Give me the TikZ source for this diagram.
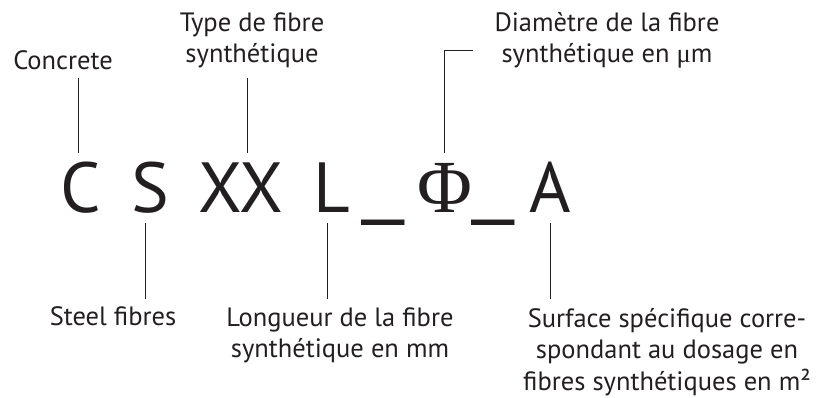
\documentclass[tikz,border=0pt]{standalone}
\usepackage{fontspec}
\setmainfont{PT Sans}
\newfontfamily\symfont{Liberation Serif}
\definecolor{ink}{RGB}{35,31,32}
\begin{document}
\begin{tikzpicture}[x=1pt, y=-1pt, ink,
  lbl/.style={font=\fontsize{26.5}{31.5}\selectfont, align=center, inner sep=0pt, anchor=base},
  big/.style={font=\fontsize{71}{71}\selectfont, inner sep=0pt, outer ysep=10pt,
    text height=50pt, text depth=0pt, anchor=base},
  lead/.style={line width=0.8pt}]
  \useasboundingbox (0,0) rectangle (820,398);

  % the code letters
  \node[big] (C)   at (81,213)  {C};
  \node[big] (S)   at (150,213) {S};
  \node[big] (XX)  at (241,213) {XX};
  \node[big] (L)   at (332,213) {L};
  \node[big] (us1) at (383,213) {\raisebox{3.5pt}{\scalebox{1.5}[1.1]{\_}}};
  \node[big, font=\fontsize{75}{75}\symfont] (Phi) at (445,213) {Φ};
  \node[big] (us2) at (493,213) {\raisebox{3.5pt}{\scalebox{1.5}[1.1]{\_}}};
  \node[big] (A)   at (550,213) {A};

  % labels above (base = last line)
  \node[lbl] (lblC)   at (63,70)  {Concrete};
  \node[lbl] (lblXX)  at (252,63) {Type de fibre\\synthétique};
  \node[lbl] (lblPhi) at (607,63) {Diamètre de la fibre\\synthétique en {\symfont μ}m};

  % labels below
  \node[lbl] (lblS)   at (113,326) {Steel fibres};
  \node[lbl] (lblL)   at (340,358) {Longueur de la fibre\\synthétique en mm};
  \node[lbl] (lblA)   at (667,390) {Surface spécifique corre-\\spondant au dosage en\\fibres synthétiques en m²};

  % free ends of the leaders
  \coordinate (eC)   at (78,78);
  \coordinate (eXX)  at (247,78);
  \coordinate (kPhi) at (444,50);
  \coordinate (ePhi) at (473,50);
  \coordinate (eS)   at (145,299);
  \coordinate (eL)   at (327,299);
  \coordinate (eA)   at (550,299);

  \draw[lead] (C.north -| eC) -- (eC);
  \draw[lead] (XX.north -| eXX) -- (eXX);
  \draw[lead] (Phi.north -| kPhi) -- (kPhi) -- (ePhi);
  \draw[lead] (S.south -| eS) -- (eS);
  \draw[lead] (L.south -| eL) -- (eL);
  \draw[lead] (A.south -| eA) -- (eA);
\end{tikzpicture}
\end{document}
